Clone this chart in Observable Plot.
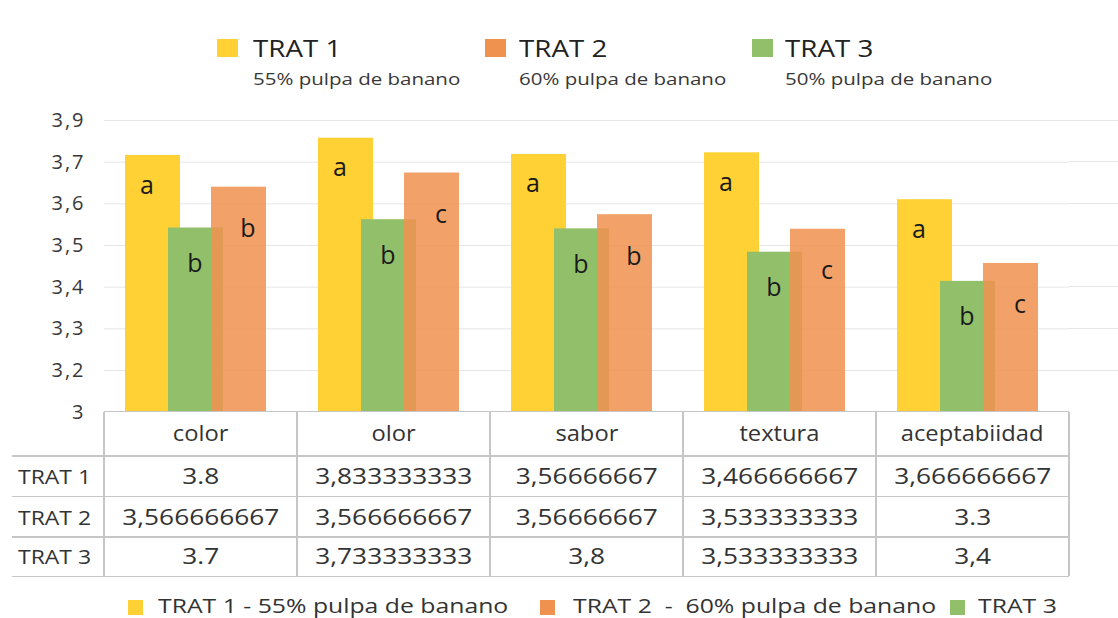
<!DOCTYPE html>
<html><head><meta charset="utf-8">
<script src="https://cdn.jsdelivr.net/npm/d3@7"></script>
<script src="https://cdn.jsdelivr.net/npm/@observablehq/plot@0.6"></script>
<style>
body{margin:0;background:#fff;font-family:"Open Sans",sans-serif;color:#333;}
#page{position:relative;width:1118px;height:618px;overflow:hidden;background:#fff}
.abs{position:absolute;white-space:pre;line-height:1}
.sx{display:inline-block}
#chart{position:absolute;left:0;top:100px}
#chart svg g[aria-label^="y-axis"] text{font-size:20px !important;letter-spacing:2px;fill:#383838}
</style></head><body><div id="page"><div id="chart"></div></div><script>
// ---------- data ----------
const categories = ["color", "olor", "sabor", "textura", "aceptabiidad"];
const seriesOrder = ["TRAT 1", "TRAT 3", "TRAT 2"]; // left-to-right inside each group
const legendNames = ["TRAT 1", "TRAT 2", "TRAT 3"];
const legendSub = ["55% pulpa de banano", "60% pulpa de banano", "50% pulpa de banano"];
const trat1 = [3.732, 3.815, 3.737, 3.745, 3.610];
const trat2 = [3.640, 3.674, 3.574, 3.539, 3.457];
const trat3 = [3.542, 3.562, 3.540, 3.484, 3.414];
const letters1 = ["a", "a", "a", "a", "a"];
const letters2 = ["b", "c", "b", "c", "c"];
const letters3 = ["b", "b", "b", "b", "b"];
const yTicks = [3, 3.2, 3.3, 3.4, 3.5, 3.6, 3.7, 3.9];
const tableRowNames = ["TRAT 1", "TRAT 2", "TRAT 3"];
const table1 = ["3.8", "3,833333333", "3,56666667", "3,466666667", "3,666666667"];
const table2 = ["3,566666667", "3,566666667", "3,56666667", "3,533333333", "3.3"];
const table3 = ["3.7", "3,733333333", "3,8", "3,533333333", "3,4"];
const bottomLegend = ["TRAT 1 - 55% pulpa de banano", "TRAT 2  -  60% pulpa de banano", "TRAT 3"];

// ---------- styles ----------
const colors = {"TRAT 1": "#ffd135", "TRAT 2": "#f0924f", "TRAT 3": "#92c06a"};
const opac = {"TRAT 1": 1, "TRAT 3": 1, "TRAT 2": 0.86};
const letterDy = {"TRAT 1": 30, "TRAT 3": 36, "TRAT 2": 42};
const letterDx = {"TRAT 1": -6, "TRAT 3": -1, "TRAT 2": 9};

const values = {"TRAT 1": trat1, "TRAT 2": trat2, "TRAT 3": trat3};
const letters = {"TRAT 1": letters1, "TRAT 2": letters2, "TRAT 3": letters3};
const data = categories.flatMap((c, i) => seriesOrder.map(s => ({cat: c, s, v: values[s][i], l: letters[s][i]})));

const H = 320, yBottom = 311.7, yTop = 20, svgTop = 100;
const yRange = yTicks.map((_, i) => yBottom - i * (yBottom - yTop) / (yTicks.length - 1));

const marks = [
  Plot.ruleY(yTicks.slice(1), {stroke: "#e6e6e6", strokeWidth: 1})
];
for (const s of seriesOrder) {
  marks.push(Plot.barY(data.filter(d => d.s === s), {
    fx: "cat", x: "s", y1: () => yTicks[0], y2: "v",
    fill: colors[s], fillOpacity: opac[s], insetLeft: -6, insetRight: -6
  }));
}
for (const s of seriesOrder) {
  marks.push(Plot.text(data.filter(d => d.s === s), {
    fx: "cat", x: "s", y: "v", text: "l", dy: letterDy[s], dx: letterDx[s],
    fontSize: 25, fill: "#1a1a1a", fontFamily: "Open Sans"
  }));
}

const chart = Plot.plot({
  width: 1118, height: H,
  marginLeft: 103, marginRight: 48, marginTop: yTop, marginBottom: H - yBottom,
  style: {fontFamily: "Open Sans", fontSize: "20px", color: "#383838", background: "transparent", overflow: "visible"},
  fx: {domain: categories, padding: 0, axis: null},
  x: {domain: seriesOrder, paddingInner: 0, paddingOuter: 0.698, align: 0.42, axis: null},
  y: {type: "linear", domain: yTicks, range: yRange, ticks: yTicks,
      tickFormat: d => String(d).replace(".", ","), tickSize: 0, tickPadding: 19, label: null},
  marks
});
document.getElementById("chart").appendChild(chart);

// ---------- HTML helpers ----------
const page = document.getElementById("page");
function box(x, y, w, h, bg) {
  const e = document.createElement("div");
  e.className = "abs";
  Object.assign(e.style, {left: x + "px", top: y + "px", width: w + "px", height: h + "px", background: bg});
  page.appendChild(e);
  return e;
}
// text positioned by baseline; anchor "start" or "middle"
function txt(text, x, baseline, size, sx, anchor, color) {
  const e = document.createElement("div");
  e.className = "abs";
  const top = baseline - 0.888 * size;
  Object.assign(e.style, {top: top + "px", fontSize: size + "px", height: size + "px", color: color || "#333"});
  const sp = document.createElement("span");
  sp.className = "sx";
  sp.textContent = text;
  sp.style.transform = `scaleX(${sx})`;
  if (anchor === "middle") {
    Object.assign(e.style, {left: (x - 300) + "px", width: "600px", textAlign: "center"});
    sp.style.transformOrigin = "50% 50%";
  } else {
    e.style.left = x + "px";
    sp.style.transformOrigin = "0 50%";
  }
  e.appendChild(sp);
  page.appendChild(e);
  return e;
}

// ---------- gridline continuation to the right edge ----------
const fx = chart.scale("fx");
const ySc = chart.scale("y");
const bw = fx.bandwidth;
const colX = categories.map(c => fx.apply(c));
const xEnd = colX[colX.length - 1] + bw;
yTicks.slice(1).forEach(t => box(xEnd, svgTop + ySc.apply(t) - 0.5, 1118 - xEnd, 1, "#e6e6e6"));

// ---------- top legend ----------
const topSq = [217, 485, 752], topTx = [253, 519, 785];
legendNames.forEach((n, i) => {
  box(topSq[i], 39, 21, 18, colors[n]);
  txt(n, topTx[i], 57.5, 23.5, 1.18, "start", "#222");
  txt(legendSub[i], topTx[i], 85, 16, 1.28, "start", "#383838");
});

// ---------- table ----------
const lineC = "#c6c6c6";
const rowLines = [411.7, 456, 496.5, 537, 576.5];
const tableLeft = 12;
box(colX[0], rowLines[0] - 0.75, xEnd - colX[0], 1.5, lineC);
rowLines.slice(1).forEach(y => box(tableLeft, y - 0.75, xEnd - tableLeft, 1.5, lineC));
[...colX, xEnd].forEach(x => box(x - 0.75, rowLines[0], 1.5, rowLines[4] - rowLines[0], lineC));
categories.forEach((c, i) => txt(c, colX[i] + bw / 2, 441.5, 21, 1.13, "middle", "#333"));
const rows = [table1, table2, table3];
const baselines = [484.5, 525.5, 564.5];
rows.forEach((r, j) => {
  txt(tableRowNames[j], 18, baselines[j], 20.5, 1.12, "start", "#333");
  r.forEach((v, i) => txt(v, colX[i] + bw / 2, baselines[j], 21, 1.25, "middle", "#333"));
});

// ---------- bottom legend ----------
const botSq = [128, 540, 950], botTx = [158, 573, 978];
legendNames.forEach((n, i) => {
  box(botSq[i], 600, 15, 15, colors[n]);
  txt(bottomLegend[i], botTx[i], 613.5, 19.5, 1.27, "start", "#333");
});
</script></body></html>
